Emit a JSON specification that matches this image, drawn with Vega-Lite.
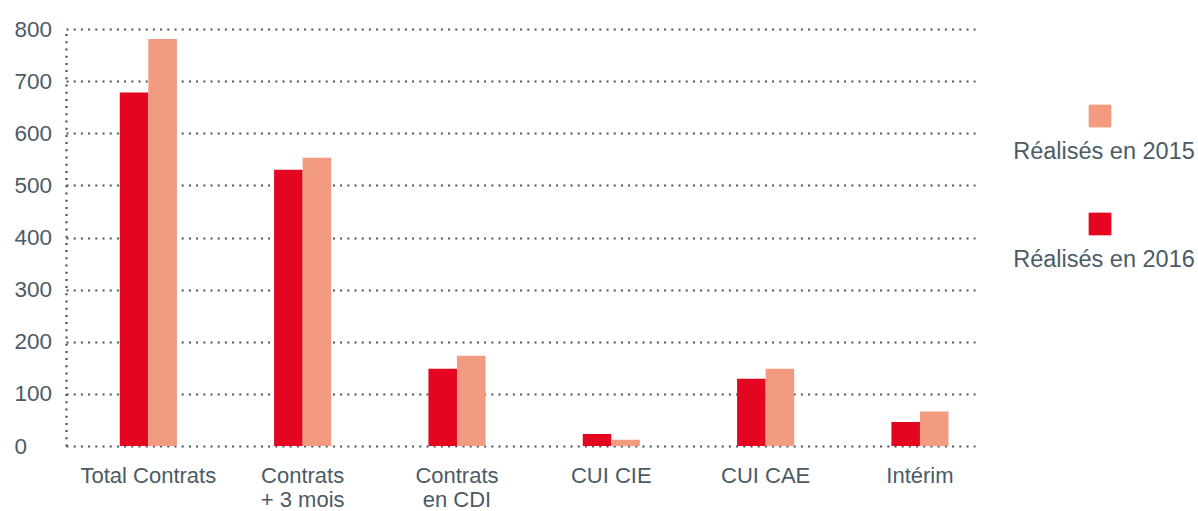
{
  "$schema": "https://vega.github.io/schema/vega-lite/v6.json",
  "padding": {"left": 14, "top": 18, "right": 0, "bottom": 0},
  "background": "white",
  "config": {
    "view": {"stroke": null},
    "font": "Liberation Sans",
    "concat": {"spacing": 0}
  },
  "datasets": {
    "main": [
      {"category": "Total Contrats", "series": "Réalisés en 2016", "value": 678},
      {"category": "Total Contrats", "series": "Réalisés en 2015", "value": 781},
      {"category": "Contrats + 3 mois", "series": "Réalisés en 2016", "value": 530},
      {"category": "Contrats + 3 mois", "series": "Réalisés en 2015", "value": 553},
      {"category": "Contrats en CDI", "series": "Réalisés en 2016", "value": 148},
      {"category": "Contrats en CDI", "series": "Réalisés en 2015", "value": 173},
      {"category": "CUI CIE", "series": "Réalisés en 2016", "value": 23},
      {"category": "CUI CIE", "series": "Réalisés en 2015", "value": 12},
      {"category": "CUI CAE", "series": "Réalisés en 2016", "value": 129},
      {"category": "CUI CAE", "series": "Réalisés en 2015", "value": 148},
      {"category": "Intérim", "series": "Réalisés en 2016", "value": 46},
      {"category": "Intérim", "series": "Réalisés en 2015", "value": 66}
    ],
    "legend": [
      {"series": "Réalisés en 2015"},
      {"series": "Réalisés en 2016"}
    ]
  },
  "hconcat": [
    {
      "width": 909,
      "height": 417,
      "data": {"name": "main"},
      "mark": {"type": "bar"},
      "encoding": {
        "x": {
          "field": "category",
          "type": "nominal",
          "sort": ["Total Contrats", "Contrats + 3 mois", "Contrats en CDI", "CUI CIE", "CUI CAE", "Intérim"],
          "scale": {"paddingInner": 0.63, "paddingOuter": 0.26, "align": 0.67},
          "axis": {
            "title": null,
            "labelAngle": 0,
            "domain": false,
            "ticks": false,
            "tickSize": 0,
            "labelPadding": 19,
            "labelFontSize": 22,
            "labelColor": "#4b5b66",
            "labelLineHeight": 24,
            "labelBaseline": "top",
            "labelExpr": "datum.label == 'Contrats + 3 mois' ? ['Contrats', '+ 3 mois'] : datum.label == 'Contrats en CDI' ? ['Contrats', 'en CDI'] : datum.label"
          }
        },
        "xOffset": {
          "field": "series",
          "type": "nominal",
          "scale": {"domain": ["Réalisés en 2016", "Réalisés en 2015"], "paddingInner": 0, "paddingOuter": 0}
        },
        "y": {
          "field": "value",
          "type": "quantitative",
          "scale": {"domain": [0, 800], "nice": false},
          "axis": {
            "title": null,
            "values": [0, 100, 200, 300, 400, 500, 600, 700, 800],
            "grid": true,
            "gridColor": "#46555f",
            "gridDash": [2, 5.2],
            "gridWidth": 2.2,
            "domain": true,
            "domainColor": "#46555f",
            "domainDash": [2, 5.2],
            "domainWidth": 2.2,
            "ticks": false,
            "tickSize": 0,
            "labelAlign": "left",
            "labelPadding": 52,
            "labelFontSize": 22.5,
            "labelColor": "#4b5b66"
          }
        },
        "color": {
          "field": "series",
          "type": "nominal",
          "scale": {"domain": ["Réalisés en 2015", "Réalisés en 2016"], "range": ["#f29b81", "#e40521"]},
          "legend": null
        }
      }
    },
    {
      "width": 250,
      "height": 282,
      "data": {"name": "legend"},
      "layer": [
        {
          "mark": {"type": "point", "shape": "square", "filled": true, "opacity": 1, "size": 515},
          "encoding": {
            "y": {"field": "series", "type": "nominal", "scale": {"type": "point", "padding": 0.806}, "axis": null},
            "color": {
              "field": "series",
              "type": "nominal",
              "scale": {"domain": ["Réalisés en 2015", "Réalisés en 2016"], "range": ["#f29b81", "#e40521"]},
              "legend": null
            }
          }
        },
        {
          "mark": {"type": "text", "dy": 36, "dx": 4, "fontSize": 23.5, "color": "#4b5b66", "align": "center", "baseline": "middle"},
          "encoding": {
            "y": {"field": "series", "type": "nominal", "scale": {"type": "point", "padding": 0.806}, "axis": null},
            "text": {"field": "series"}
          }
        }
      ]
    }
  ]
}
